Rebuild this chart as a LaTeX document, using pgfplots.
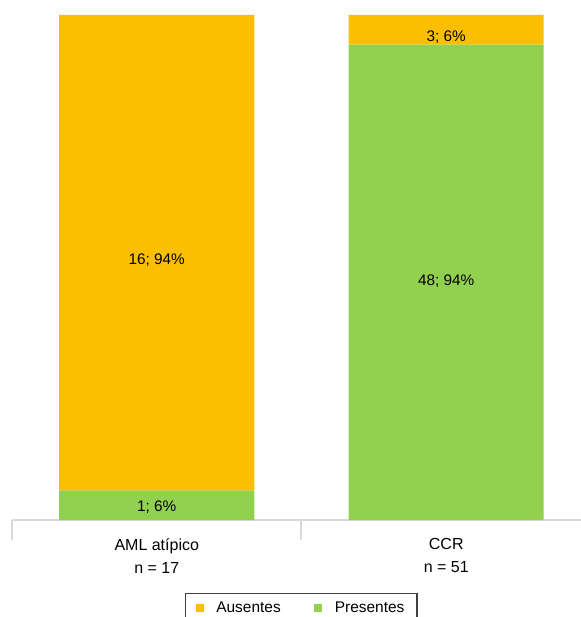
\documentclass[border=0pt]{standalone}
\usepackage{pgfplots}
\pgfplotsset{compat=1.18}
\usepackage{fontspec}
\setmainfont{Liberation Sans}
\definecolor{ausc}{RGB}{251,191,0}
\definecolor{presc}{RGB}{146,208,80}
\definecolor{axc}{RGB}{217,217,217}
\newcommand{\semic}{;}
\pgfplotsset{
  mybase/.style={
    at={(0pt,0pt)}, anchor=south west,
    scale only axis,
    width=426.75pt, height=378.75pt,
    xmin=-0.5, xmax=1.4655, ymin=0, ymax=100,
  }
}
\begin{document}
\begin{tikzpicture}
\begin{axis}[
  mybase,
  ybar stacked, bar width=146.25pt,
  hide y axis,
  axis x line*=bottom,
  x axis line style={-, draw=axc, line width=1.5pt},
  xtick={-0.5,0.5}, xticklabels={},
  tick align=outside,
  major tick length=15pt,
  x tick style={draw=axc, line width=1.5pt},
  extra x ticks={0,1},
  extra x tick labels={{AML atípico\\n = 17},{CCR\\n = 51}},
  extra x tick style={major tick length=0pt, tick style={draw=none},
    tick label style={align=center, font=\fontsize{12}{17.25}\selectfont, yshift=-10.3pt}},
  clip=false,
  legend columns=2,
  legend style={at={(0.304,-0.1446)}, anchor=north west, draw=black!75, line width=1pt,
    font=\fontsize{11.6}{13}\selectfont, inner xsep=7.5pt, inner ysep=4pt,
    /tikz/every even column/.append style={column sep=23pt}},
  legend image code/.code={\fill[#1, draw=none] (0pt,-3pt) rectangle (6pt,3pt); \path (13pt,0pt);},
]
\addlegendimage{fill=ausc}\addlegendentry{Ausentes}
\addlegendimage{fill=presc}\addlegendentry{Presentes}
\addplot[fill=presc, draw=none, forget plot] coordinates {(0,5.88) (1,94.12)};
\addplot[fill=ausc, draw=none, forget plot] coordinates {(0,94.12) (1,5.88)};
\end{axis}
\begin{axis}[
  mybase,
  axis lines=none, clip=false,
]
\addplot[draw=none, mark=none, nodes near coords, point meta=explicit symbolic,
  every node near coord/.append style={anchor=center, font=\fontsize{11.5}{13}\selectfont, text=black}]
  coordinates {(0,51.5) [16\semic{} 94\%] (0,2.6) [1\semic{} 6\%] (1,47.3) [48\semic{} 94\%] (1,95.6) [3\semic{} 6\%]};
\end{axis}
\pgfresetboundingbox
\useasboundingbox (-9pt,-72.75pt) rectangle (426.75pt,390pt);
\end{tikzpicture}
\end{document}
